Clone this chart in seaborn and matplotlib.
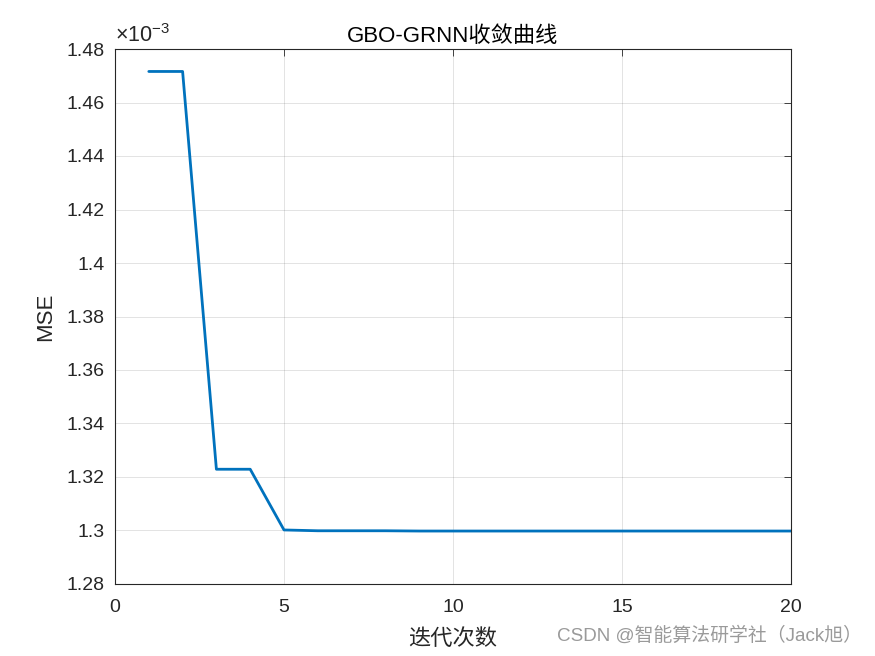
import numpy as np
import pandas as pd
import matplotlib
matplotlib.use("Agg")
import matplotlib.pyplot as plt
import seaborn as sns

# convergence values (MSE, in units of 1e-3)
iterations = list(range(1, 21))
mse_e3 = [1.4716, 1.4716, 1.3229, 1.3229, 1.3002, 1.2999, 1.2999, 1.2999, 1.2998, 1.2998,
          1.2998, 1.2998, 1.2998, 1.2998, 1.2998, 1.2998, 1.2998, 1.2998, 1.2998, 1.2998]
x_ticks = [0, 5, 10, 15, 20]
y_ticks = [1.28, 1.30, 1.32, 1.34, 1.36, 1.38, 1.40, 1.42, 1.44, 1.46, 1.48]

df = pd.DataFrame({"iter": iterations, "mse": mse_e3})

sns.set_theme(style="white")
plt.rcParams['font.family'] = ['Liberation Sans', 'Noto Sans CJK SC', 'DejaVu Sans']
plt.rcParams['axes.unicode_minus'] = False
plt.rcParams['mathtext.fontset'] = 'custom'
plt.rcParams['mathtext.rm'] = 'Liberation Sans'

fig = plt.figure(figsize=(8.75, 6.56), dpi=100)
ax = fig.add_axes([115 / 875, 72 / 656, 676 / 875, 535 / 656])

sns.lineplot(data=df, x="iter", y="mse", ax=ax, color="#0072BD", linewidth=2.0)

ax.set_xlim(0, 20)
ax.set_ylim(1.28, 1.48)
ax.set_xticks(x_ticks)
ax.set_yticks(y_ticks)
ax.set_yticklabels([f"{v:g}" for v in y_ticks])
ax.grid(True, color="#262626", alpha=0.15, linewidth=0.6)
ax.tick_params(direction="in", length=5, width=0.6, colors="#262626",
               labelsize=14, top=True, right=True, labelcolor="#262626")
ax.tick_params(axis="y", pad=7.5)
ax.tick_params(axis="x", pad=11)
for s in ax.spines.values():
    s.set_color("#262626")
    s.set_linewidth(0.8)

ax.set_title("GBO-GRNN收敛曲线", fontsize=16, color="black", pad=5)
ax.set_xlabel("迭代次数", fontsize=16, color="#262626", labelpad=9)
ax.set_ylabel("MSE", fontsize=16, color="#262626", labelpad=7)

ax.text(0, 1.004, r"$\times10^{-3}$", transform=ax.transAxes, fontsize=15.5,
        color="#262626", ha="left", va="bottom")

fig.text(862 / 875, 1 - 636 / 656, "CSDN @智能算法研学社（Jack旭）", fontsize=13.6,
         color="#9a9a9a", ha="right", va="center")

fig.savefig("out.png", dpi=100, facecolor="white")
